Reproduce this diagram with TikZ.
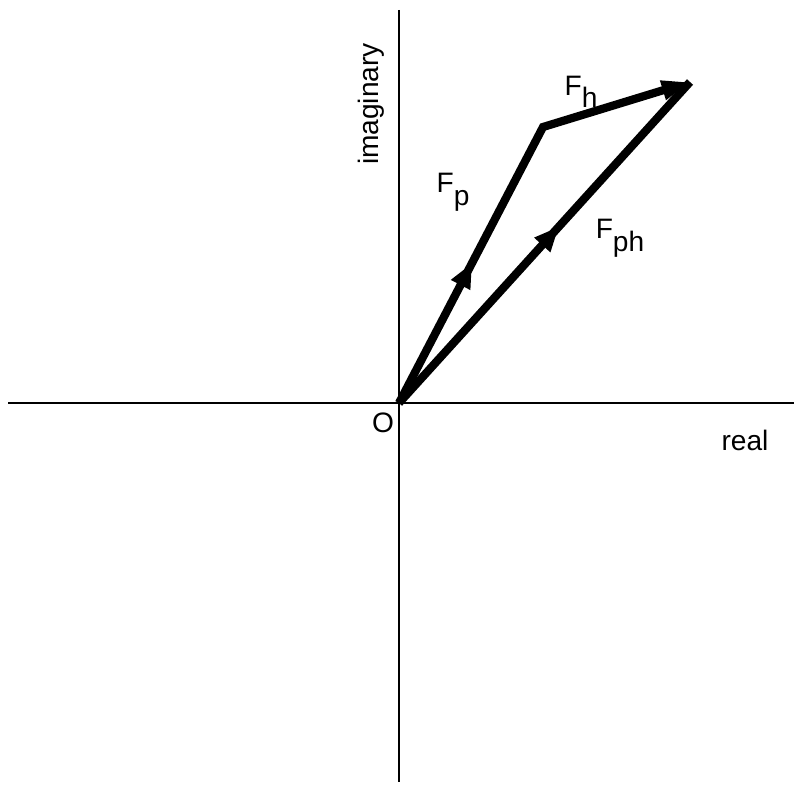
\documentclass[tikz,border=0pt]{standalone}
\usepackage{fontspec}
\setmainfont{Liberation Sans}
\usetikzlibrary{arrows.meta,decorations.markings}
\newcommand{\lowsub}[1]{\raisebox{-0.45em}{#1}}

\begin{document}
\begin{tikzpicture}[x=0.03cm, y=-0.03cm,
    axis/.style = {line width=1.6pt},
    vec/.style = {line width=7pt, line join=miter},
    lbl/.style = {font=\fontsize{24}{28}\selectfont, inner sep=0pt},
    midarrow/.style = {postaction={decorate, decoration={markings,
        mark=at position #1 with {\arrow{Triangle[length=0.75cm, width=0.6cm]}}}}}]
    % Frame of the picture
    \useasboundingbox (0,0) rectangle (794,787);

    % Initial points
    \coordinate (O) at (399,403);
    \coordinate (P) at (543,127);
    \coordinate (H) at (690,82);

    % Draw axes
    \draw[axis] (8,403) -- (794,403);
    \draw[axis] (399,10) -- (399,782);

    % Axis labels
    \node[lbl] (o) at (383,423) {O};
    \node[lbl] (re) at (745,440) {real};
    \node[lbl, rotate=90] (im) at (371,104) {imaginary};

    % Draw vectors
    \draw[vec, midarrow=0.34, -{Triangle[length=0.85cm, width=0.55cm]}] (O) -- (P) -- (H);
    \draw[vec, midarrow=0.55] (O) -- (H);

    % Vector labels
    \node[lbl] (fh) at (581,92) {F\lowsub{h}};
    \node[lbl] (fp) at (453,192) {F\lowsub{p}};
    \node[lbl] (fph) at (620,238) {F\lowsub{ph}};
\end{tikzpicture}
\end{document}
